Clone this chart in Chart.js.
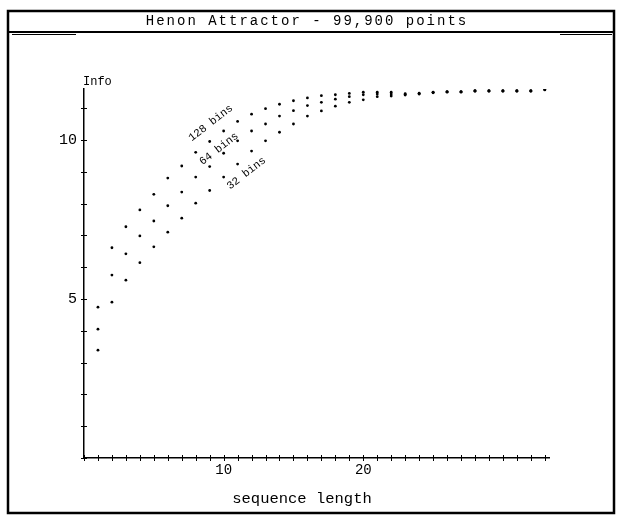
<!DOCTYPE html>
<html>
<head>
<meta charset="utf-8">
<script src="https://cdn.jsdelivr.net/npm/chart.js@4.4.0/dist/chart.umd.min.js"></script>
<style>
  html, body { margin: 0; padding: 0; background: #fff; }
  #wrap { width: 619px; height: 517px; position: relative; }
</style>
</head>
<body>
<div id="wrap"><canvas id="grafico"></canvas></div>
<script>
// Datos
const seqLength = [1, 2, 3, 4, 5, 6, 7, 8, 9, 10, 11, 12, 13, 14, 15, 16, 17,
    18, 19, 20, 21, 22, 23, 24, 25, 26, 27, 28, 29, 30, 31, 32, 33];
const bins128 = [4.74, 6.61, 7.27, 7.80, 8.29, 8.80, 9.18, 9.61, 9.95, 10.28, 10.58,
    10.81, 10.98, 11.12, 11.23, 11.32, 11.39, 11.42, 11.46, 11.50, 11.50, 11.50,
    11.45, 11.47, 11.50, 11.52, 11.52, 11.55, 11.55, 11.55, 11.55, 11.55, 11.59];
const bins64 = [4.05, 5.75, 6.42, 6.98, 7.45, 7.93, 8.36, 8.83, 9.16, 9.58, 9.97,
    10.28, 10.50, 10.75, 10.92, 11.08, 11.18, 11.28, 11.36, 11.42, 11.44, 11.44,
    11.43, 11.45, 11.49, 11.51, 11.51, 11.54, 11.54, 11.54, 11.54, 11.54, 11.58];
const bins32 = [3.39, 4.90, 5.59, 6.14, 6.64, 7.10, 7.54, 8.01, 8.41, 8.83, 9.24,
    9.65, 9.97, 10.24, 10.50, 10.75, 10.91, 11.06, 11.18, 11.26, 11.36, 11.38,
    11.41, 11.44, 11.48, 11.50, 11.50, 11.53, 11.53, 11.53, 11.53, 11.53, 11.57];
const seriesNames = ['128 bins', '64 bins', '32 bins'];
const xLabeled = [10, 20];
const yLabeled = [5, 10];
const chartTitle = 'Henon Attractor - 99,900 points';
const xTitle = 'sequence length';
const yTitle = 'Info';

const FONT = "'Liberation Mono', 'DejaVu Sans Mono', monospace";

function puntos(valores) {
    return seqLength.map((x, i) => ({ x: x, y: valores[i] }));
}

// Marco, barra de titulo y textos sueltos
const marco = {
    id: 'marco',
    beforeDraw(chart) {
        const ctx = chart.ctx;
        ctx.save();
        ctx.fillStyle = '#fff';
        ctx.fillRect(0, 0, chart.width, chart.height);
        ctx.restore();
    },
    afterDraw(chart) {
        const ctx = chart.ctx;
        ctx.save();
        ctx.strokeStyle = '#000';
        ctx.lineWidth = 2.5;
        ctx.strokeRect(8, 11, 606, 502);
        ctx.lineWidth = 2;
        ctx.beginPath();
        ctx.moveTo(8, 32);
        ctx.lineTo(614, 32);
        ctx.stroke();
        ctx.lineWidth = 1;
        ctx.beginPath();
        ctx.moveTo(12, 34.5);
        ctx.lineTo(76, 34.5);
        ctx.moveTo(560, 34.5);
        ctx.lineTo(612, 34.5);
        ctx.stroke();

        ctx.fillStyle = '#000';
        ctx.font = '14px ' + FONT;
        ctx.letterSpacing = '2px';
        ctx.textAlign = 'center';
        ctx.textBaseline = 'middle';
        ctx.fillText(chartTitle, 307, 21);
        ctx.letterSpacing = '0px';

        // nombre del eje x
        ctx.font = '15.5px ' + FONT;
        ctx.fillText(xTitle, 302, 499);
        ctx.restore();
    }
};

const etiquetas = {
    id: 'etiquetas',
    afterDatasetsDraw(chart) {
        const ctx = chart.ctx;
        const x = chart.scales.x;
        const y = chart.scales.y;
        ctx.save();
        ctx.strokeStyle = '#000';
        ctx.lineWidth = 1;
        // marcas que cruzan los ejes
        ctx.beginPath();
        y.ticks.forEach(t => {
            const py = Math.round(y.getPixelForValue(t.value)) + 0.5;
            ctx.moveTo(x.left - 3, py);
            ctx.lineTo(x.left + 3, py);
        });
        x.ticks.forEach(t => {
            const px = Math.round(x.getPixelForValue(t.value)) + 0.5;
            ctx.moveTo(px, y.bottom - 3);
            ctx.lineTo(px, y.bottom + 3);
        });
        ctx.stroke();

        // nombre del eje y
        ctx.fillStyle = '#000';
        ctx.font = '12px ' + FONT;
        ctx.textAlign = 'left';
        ctx.textBaseline = 'middle';
        ctx.fillText(yTitle, x.left - 1, 82);

        // rotulos de cada serie
        const sitios = [[9.08, 10.53], [9.66, 9.72], [11.63, 8.95]];
        ctx.font = '11px ' + FONT;
        ctx.textAlign = 'center';
        seriesNames.forEach((nombre, i) => {
            const px = x.getPixelForValue(sitios[i][0]);
            const py = y.getPixelForValue(sitios[i][1]);
            ctx.save();
            ctx.translate(px, py);
            ctx.rotate(-38 * Math.PI / 180);
            ctx.fillText(nombre, 0, 0);
            ctx.restore();
        });
        ctx.restore();
    }
};

const ctx = document.getElementById('grafico').getContext('2d');
new Chart(ctx, {
    type: 'scatter',
    data: {
        datasets: [
            { label: seriesNames[0], data: puntos(bins128) },
            { label: seriesNames[1], data: puntos(bins64) },
            { label: seriesNames[2], data: puntos(bins32) }
        ]
    },
    options: {
        responsive: true,
        maintainAspectRatio: false,
        animation: false,
        devicePixelRatio: 1,
        layout: { padding: { left: 44, right: 70, top: 89, bottom: 0 } },
        elements: {
            point: { radius: 1.4, backgroundColor: '#000', borderColor: '#000', borderWidth: 0 }
        },
        scales: {
            x: {
                type: 'linear',
                min: 0,
                max: 33.3,
                grid: { display: false, drawTicks: false },
                border: { display: true, color: '#000', width: 1.5 },
                ticks: {
                    stepSize: 1,
                    autoSkip: false,
                    includeBounds: false,
                    maxRotation: 0,
                    padding: 4,
                    color: '#000',
                    font: { family: FONT, size: 14 },
                    callback: v => xLabeled.includes(v) ? String(v) : ''
                },
                afterFit: s => { s.height = 59; }
            },
            y: {
                type: 'linear',
                min: 0,
                max: 11.6,
                grid: { display: false, drawTicks: false },
                border: { display: true, color: '#000', width: 1.5 },
                ticks: {
                    stepSize: 1,
                    autoSkip: false,
                    includeBounds: false,
                    padding: 7,
                    color: '#000',
                    font: { family: FONT, size: 15 },
                    callback: v => yLabeled.includes(v) ? String(v) : ''
                },
                afterFit: s => { s.width = 40; }
            }
        },
        plugins: {
            legend: { display: false },
            title: { display: false },
            tooltip: { enabled: false }
        }
    },
    plugins: [marco, etiquetas]
});
</script>
</body>
</html>
